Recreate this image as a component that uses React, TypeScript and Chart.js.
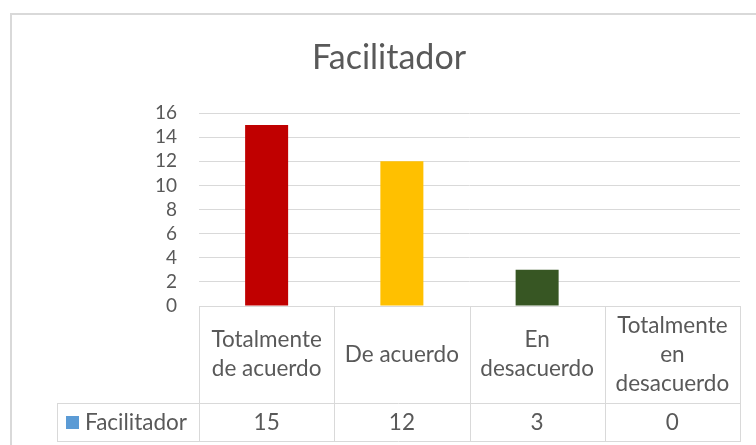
import React, { useEffect, useRef } from "react";
import { Chart, registerables } from "chart.js";

Chart.register(...registerables);

const title = "Facilitador";
const seriesName = "Facilitador";
const categories: string[][] = [
  ["Totalmente", "de acuerdo"],
  ["De acuerdo"],
  ["En", "desacuerdo"],
  ["Totalmente", "en", "desacuerdo"],
];
const values = [15, 12, 3, 0];
const barColors = ["#C00000", "#FFC000", "#375623", "#5B9BD5"];
const legendColor = "#5B9BD5";
const yMin = 0;
const yMax = 16;
const yStep = 2;

const FONT = "Lato, 'Open Sans', sans-serif";
const TEXT = "#595959";
const LINE = "#d9d9d9";

const tablePlugin = {
  id: "tablePlugin",
  afterDraw(chart: any) {
    const ctx = chart.ctx as CanvasRenderingContext2D;
    const area = chart.chartArea;
    const xs = chart.scales.x;
    const n = categories.length;
    const colW = (area.right - area.left) / n;
    const y0 = area.bottom;
    const y1 = y0 + 97;
    const y2 = y1 + 38;
    const labelLeft = 57;
    ctx.save();
    // outer border
    ctx.strokeStyle = LINE;
    ctx.lineWidth = 2;
    ctx.strokeRect(11, 14, 780, 470);
    // title
    ctx.fillStyle = TEXT;
    ctx.font = `34px ${FONT}`;
    ctx.textAlign = "center";
    ctx.textBaseline = "alphabetic";
    ctx.fillText(title, 389, 69);
    // table lines
    ctx.lineWidth = 1;
    ctx.strokeStyle = LINE;
    ctx.beginPath();
    ctx.moveTo(area.left, y0 + 0.5);
    ctx.lineTo(area.right, y0 + 0.5);
    ctx.moveTo(labelLeft, y1 + 0.5);
    ctx.lineTo(area.right, y1 + 0.5);
    ctx.moveTo(labelLeft, y2 + 0.5);
    ctx.lineTo(area.right, y2 + 0.5);
    for (let i = 0; i <= n; i++) {
      const x = Math.round(area.left + i * colW) + 0.5;
      ctx.moveTo(x, y0);
      ctx.lineTo(x, y2 + 1);
    }
    ctx.moveTo(labelLeft + 0.5, y1);
    ctx.lineTo(labelLeft + 0.5, y2 + 1);
    ctx.stroke();
    // header labels
    ctx.fillStyle = TEXT;
    ctx.font = `22.5px ${FONT}`;
    ctx.textAlign = "center";
    ctx.textBaseline = "middle";
    const lh = 29;
    categories.forEach((lines, i) => {
      const cx = xs.getPixelForValue(i);
      const cy = (y0 + y1) / 2;
      const start = cy - ((lines.length - 1) * lh) / 2;
      lines.forEach((t, j) => ctx.fillText(t, cx, start + j * lh));
    });
    // values row
    const vy = (y1 + y2) / 2 + 1;
    values.forEach((v, i) => {
      ctx.fillText(String(v), xs.getPixelForValue(i), vy);
    });
    // legend key + series name
    ctx.fillStyle = legendColor;
    ctx.fillRect(66, vy - 7, 13, 13);
    ctx.fillStyle = TEXT;
    ctx.textAlign = "left";
    ctx.fillText(seriesName, 85, vy);
    ctx.restore();
  },
};

export default function App() {
  const ref = useRef<HTMLCanvasElement>(null);
  useEffect(() => {
    if (!ref.current) return;
    const chart = new Chart(ref.current, {
      type: "bar",
      data: {
        labels: categories.map((c) => c.join(" ")),
        datasets: [
          {
            label: seriesName,
            data: values,
            backgroundColor: barColors,
            categoryPercentage: 1,
            barPercentage: 0.318,
          },
        ],
      },
      options: {
        responsive: false,
        animation: false,
        layout: { padding: { left: 0, right: 16, top: 113, bottom: 139 } },
        plugins: {
          legend: { display: false },
          title: { display: false },
          tooltip: { enabled: false },
        },
        scales: {
          x: { display: false, offset: true },
          y: {
            min: yMin,
            max: yMax,
            afterFit: (s: any) => {
              s.width = 199;
            },
            border: { display: false },
            grid: { color: LINE, lineWidth: 1, drawTicks: false },
            ticks: {
              stepSize: yStep,
              autoSkip: false,
              padding: 22,
              color: TEXT,
              font: { family: FONT, size: 19 },
            },
          },
        },
      },
      plugins: [tablePlugin],
    });
    return () => chart.destroy();
  }, []);
  return (
    <div style={{ position: "absolute", left: 0, top: 0, width: 756, height: 445, background: "#fff" }}>
      <canvas ref={ref} width={756} height={445} />
    </div>
  );
}
